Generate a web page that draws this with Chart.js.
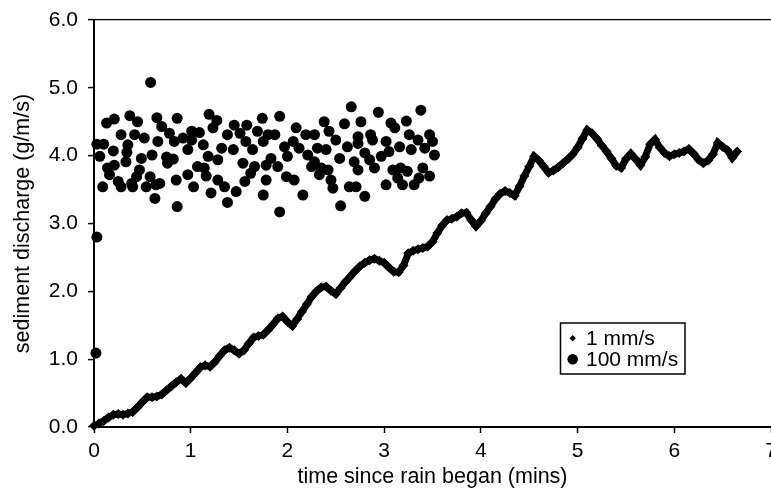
<!DOCTYPE html>
<html><head><meta charset="utf-8">
<script src="https://cdn.jsdelivr.net/npm/chart.js@4.4.1/dist/chart.umd.min.js"></script>
<style>html,body{margin:0;padding:0;background:#fff}#wrap{width:771px;height:493px}</style>
</head><body><div id="wrap"><canvas id="c" width="771" height="493"></canvas></div>
<script>
const seriesNames = ['1 mm/s', '100 mm/s'];
const xTitle = 'time since rain began (mins)';
const yTitle = 'sediment discharge (g/m/s)';
const xTicks = [0, 1, 2, 3, 4, 5, 6, 7];
const yTicks = [0, 1, 2, 3, 4, 5, 6];

// 1 mm/s series: time (mins) and discharge
const slowT = [0,0.05,0.1,0.15,0.2,0.25,0.3,0.35,0.4,0.45,0.5,0.55,0.6,0.65,0.7,0.75,0.8,0.85,0.9,0.95,
1,1.05,1.1,1.15,1.2,1.25,1.3,1.35,1.4,1.45,1.5,1.55,1.6,1.65,1.7,1.75,1.8,1.85,1.9,1.95,
2,2.05,2.1,2.15,2.2,2.25,2.3,2.35,2.4,2.45,2.5,2.55,2.6,2.65,2.7,2.75,2.8,2.85,2.9,2.95,
3,3.05,3.1,3.15,3.2,3.25,3.3,3.35,3.4,3.45,3.5,3.55,3.6,3.65,3.7,3.75,3.8,3.85,3.9,3.95,
4,4.05,4.1,4.15,4.2,4.25,4.3,4.35,4.4,4.45,4.5,4.55,4.6,4.65,4.7,4.75,4.8,4.85,4.9,4.95,
5,5.05,5.1,5.15,5.2,5.25,5.3,5.35,5.4,5.45,5.5,5.55,5.6,5.65,5.7,5.75,5.8,5.85,5.9,5.95,
6,6.05,6.1,6.15,6.2,6.25,6.3,6.35,6.4,6.45,6.5,6.55,6.6,6.65];
const slowY = [0.02,0.05,0.09,0.14,0.18,0.19,0.18,0.20,0.22,0.29,0.37,0.44,0.44,0.45,0.48,0.54,0.60,0.66,0.71,0.65,
0.72,0.80,0.88,0.91,0.89,0.96,1.05,1.13,1.17,1.13,1.08,1.13,1.23,1.32,1.34,1.36,1.43,1.51,1.60,1.63,
1.55,1.49,1.59,1.70,1.81,1.92,2.00,2.06,2.07,2.01,1.96,2.05,2.14,2.22,2.30,2.37,2.42,2.46,2.48,2.45,
2.42,2.35,2.29,2.28,2.38,2.56,2.60,2.62,2.64,2.66,2.73,2.86,2.97,3.05,3.07,3.10,3.15,3.16,3.05,2.96,
3.04,3.15,3.25,3.36,3.44,3.48,3.45,3.41,3.55,3.70,3.84,3.99,3.93,3.84,3.75,3.78,3.83,3.89,3.95,4.02,
4.12,4.25,4.38,4.33,4.25,4.15,4.06,3.96,3.85,3.82,3.95,4.03,3.95,3.86,3.98,4.17,4.24,4.12,4.04,3.99,
4.02,4.04,4.06,4.10,4.03,3.94,3.89,3.93,4.02,4.19,4.13,4.08,3.97,4.06];

// 100 mm/s series: time (mins) and discharge
const fastX = [0.02,0.03,0.03,0.10,0.06,
0.585,0.13,0.21,0.37,0.45,0.65,0.70,0.86,0.28,0.42,0.52,0.35,0.66,0.78,0.83,0.20,0.34,0.60,0.49,0.75,
0.82,0.33,0.76,0.21,0.14,0.47,0.16,0.44,0.58,0.25,0.39,0.64,0.09,0.28,0.40,0.54,0.68,0.85,0.63,0.86,
1.19,1.27,1.23,1.45,1.58,1.74,1.01,1.09,0.92,1.38,1.51,1.69,1.01,1.13,1.57,1.75,0.97,1.32,1.44,1.64,
1.18,1.28,1.54,1.66,1.78,1.07,1.14,0.97,1.16,1.62,1.28,1.56,1.78,1.03,1.35,1.47,1.21,1.75,1.38,
1.92,2.66,2.38,2.59,1.80,1.87,2.09,2.19,2.28,2.43,2.50,2.73,1.97,2.06,2.12,2.31,2.40,2.62,2.00,2.21,
2.54,1.83,2.28,2.69,1.90,2.25,2.35,2.42,1.99,2.07,2.33,2.45,2.47,2.64,2.71,2.16,2.55,1.92,
3.38,2.94,2.76,3.07,3.23,3.11,2.86,3.26,3.47,2.73,2.88,3.02,3.35,3.50,3.16,3.28,3.42,2.80,3.05,3.52,
2.85,2.97,2.73,2.90,3.09,3.17,3.24,3.40,3.47,3.14,3.36,3.02,3.19,3.31,2.80];
const fastY = [1.09,2.80,4.17,4.17,3.99,
5.08,4.48,4.54,4.59,4.50,4.56,4.43,4.55,4.31,4.31,4.26,4.16,4.21,4.33,4.21,4.07,4.05,4.01,3.96,3.98,
3.95,3.91,3.89,3.86,3.82,3.79,3.72,3.69,3.69,3.62,3.59,3.57,3.54,3.54,3.54,3.54,3.59,3.64,3.37,3.25,
4.61,4.52,4.41,4.45,4.45,4.55,4.36,4.34,4.26,4.31,4.33,4.36,4.23,4.16,4.21,4.21,4.09,4.11,4.09,4.09,
3.99,3.94,3.89,3.84,3.86,3.84,3.82,3.72,3.70,3.74,3.64,3.62,3.64,3.54,3.54,3.47,3.45,3.42,3.31,
4.58,4.72,4.50,4.47,4.31,4.31,4.41,4.31,4.31,4.36,4.23,4.28,4.13,4.21,4.11,4.11,4.09,4.13,3.99,4.01,
3.96,3.96,3.91,3.91,3.84,3.84,3.82,3.79,3.69,3.64,3.72,3.64,3.52,3.54,3.54,3.42,3.26,3.17,
4.67,4.64,4.50,4.48,4.51,4.41,4.31,4.31,4.31,4.18,4.23,4.21,4.23,4.21,4.13,4.09,4.11,4.04,4.06,4.01,
3.94,3.99,3.79,3.82,3.79,3.82,3.77,3.82,3.70,3.67,3.67,3.57,3.57,3.57,3.40];

const FONT = '"Liberation Sans", Arial, Helvetica, sans-serif';
const FS = 21;

const boxLegend = {
  id: 'boxLegend',
  afterDraw(chart) {
    const ctx = chart.ctx;
    ctx.save();
    ctx.strokeStyle = '#000';
    ctx.lineWidth = 1.5;
    ctx.strokeRect(560.5, 323, 124.5, 51);
    ctx.fillStyle = '#000';
    ctx.beginPath();
    ctx.moveTo(572.7, 335); ctx.lineTo(575.9, 338.3); ctx.lineTo(572.7, 341.6); ctx.lineTo(569.5, 338.3);
    ctx.closePath(); ctx.fill();
    ctx.beginPath(); ctx.arc(572.7, 359.3, 5.3, 0, Math.PI * 2); ctx.fill();
    ctx.font = FS + 'px ' + FONT;
    ctx.textBaseline = 'middle';
    ctx.textAlign = 'left';
    ctx.fillText(seriesNames[0], 586, 339);
    ctx.fillText(seriesNames[1], 586, 360);
    ctx.restore();
  }
};

new Chart(document.getElementById('c'), {
  type: 'scatter',
  data: {
    datasets: [
      {
        label: seriesNames[1],
        data: fastX.map((x, i) => ({x, y: fastY[i]})),
        pointStyle: 'circle',
        pointRadius: 5.5,
        pointBorderWidth: 0,
        backgroundColor: '#000',
        borderColor: '#000',
        clip: false
      },
      {
        label: seriesNames[0],
        data: slowT.map((x, i) => ({x, y: slowY[i]})),
        showLine: true,
        borderColor: '#000',
        borderWidth: 7,
        pointStyle: 'rectRot',
        pointRadius: 5,
        pointBorderWidth: 0,
        backgroundColor: '#000',
        clip: false
      }
    ]
  },
  options: {
    responsive: false,
    animation: false,
    devicePixelRatio: 1,
    layout: {autoPadding: false, padding: {top: 20, left: 0, right: 0, bottom: 0}},
    plugins: {legend: {display: false}, tooltip: {enabled: false}},
    scales: {
      x: {
        type: 'linear', min: 0, max: 7,
        afterBuildTicks: s => { s.ticks = xTicks.map(v => ({value: v})); },
        afterFit: s => { s.height = 66; s.paddingLeft = 0; s.paddingRight = 0; },
        ticks: {font: {family: FONT, size: FS}, color: '#000', padding: 6, maxRotation: 0, autoSkip: false},
        grid: {drawOnChartArea: false, drawTicks: true, tickLength: 6, tickColor: '#000', tickWidth: 1.5},
        border: {display: true, color: '#000', width: 2},
        title: {display: true, text: xTitle, color: '#000', font: {family: FONT, size: 21.5}, padding: {top: 0, bottom: 3}}
      },
      y: {
        type: 'linear', min: 0, max: 6,
        afterBuildTicks: s => { s.ticks = yTicks.map(v => ({value: v})); },
        afterFit: s => { s.width = 94; s.paddingTop = 0; s.paddingBottom = 0; },
        ticks: {font: {family: FONT, size: FS}, color: '#000', padding: 10, callback: v => Number(v).toFixed(1)},
        grid: {
          drawOnChartArea: true, drawTicks: true, tickLength: 6, tickColor: '#000', tickWidth: 1.5,
          color: c => (c.tick && c.tick.value === 6) ? '#000' : 'rgba(0,0,0,0)', lineWidth: 1.2
        },
        border: {display: true, color: '#000', width: 2},
        title: {display: true, text: yTitle, color: '#000', font: {family: FONT, size: 21.5}, padding: {top: 10, bottom: 0}}
      }
    }
  },
  plugins: [boxLegend]
});
</script>
</body></html>
